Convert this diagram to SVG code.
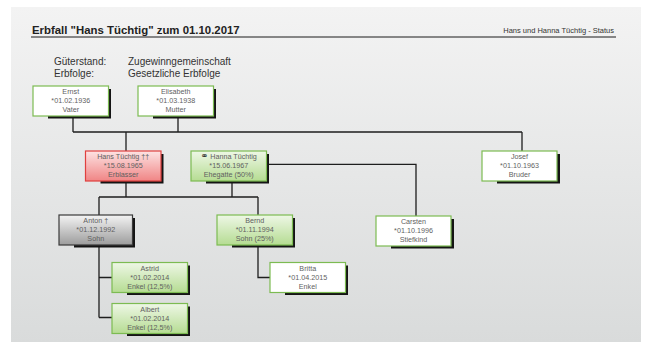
<svg xmlns="http://www.w3.org/2000/svg" width="645" height="342" viewBox="0 0 645 342">
<defs>
<linearGradient id="bg" x1="0" y1="0" x2="0" y2="1">
<stop offset="0" stop-color="#f3f3f3"/>
<stop offset="1" stop-color="#d9dbdb"/>
</linearGradient>
<linearGradient id="gGreen" x1="0" y1="0" x2="0" y2="1">
<stop offset="0" stop-color="#eef7e6"/>
<stop offset="1" stop-color="#b5dc92"/>
</linearGradient>
<linearGradient id="gRed" x1="0" y1="0" x2="0" y2="1">
<stop offset="0" stop-color="#fde3e3"/>
<stop offset="1" stop-color="#f08585"/>
</linearGradient>
<linearGradient id="gGrey" x1="0" y1="0" x2="0" y2="1">
<stop offset="0" stop-color="#f4f4f4"/>
<stop offset="1" stop-color="#9c9c9c"/>
</linearGradient>
</defs>
<style>
.sh{fill:#141414}
.box{stroke-width:1.2}
.white{fill:#ffffff;stroke:#7cbb52}
.green{fill:url(#gGreen);stroke:#7cbb52}
.red{fill:url(#gRed);stroke:#e0403f}
.grey{fill:url(#gGrey);stroke:#3a3a3a}
.t{font-family:"Liberation Sans",Arial,sans-serif;font-size:7.2px;fill:#5f5f5f;text-anchor:middle}
.conn{stroke:#1e1e1e;stroke-width:1.3;fill:none}
.hdr{font-family:"Liberation Sans",Arial,sans-serif;fill:#222222}
.sub{font-family:"Liberation Sans",Arial,sans-serif;fill:#333333}
.sym{font-family:"DejaVu Sans",sans-serif;font-size:9px;fill:#333333;font-weight:bold}
</style>
<rect x="0" y="0" width="645" height="342" fill="#ffffff"/>
<rect x="11" y="7" width="630" height="335" fill="url(#bg)"/>
<text class="hdr" x="32" y="33.5" font-size="11.4" font-weight="bold">Erbfall "Hans Tüchtig" zum 01.10.2017</text>
<text class="sub" x="614" y="32.5" font-size="7.5" text-anchor="end">Hans und Hanna Tüchtig - Status</text>
<line x1="31" y1="37" x2="616" y2="37" stroke="#1a1a1a" stroke-width="1"/>
<text class="sub" x="54" y="65" font-size="10">Güterstand:</text>
<text class="sub" x="54" y="77" font-size="10">Erbfolge:</text>
<text class="sub" x="128" y="65" font-size="10">Zugewinngemeinschaft</text>
<text class="sub" x="128" y="77" font-size="10">Gesetzliche Erbfolge</text>
<g id="connectors">
<path class="conn" d="M73 116V132M178 116V132M73 132H522M126 132V151M522 132V151"/>
<path class="conn" d="M126 181V197M232 181V197M99 197H258M99 197V215M258 197V215"/>
<path class="conn" d="M266.5 164.3H416V216"/>
<path class="conn" d="M99 245V317.5M99 277.5H112M99 317.5H112"/>
<path class="conn" d="M258 245V277.5H270"/>
</g>
<g id="ernst">
<rect class="sh" x="48" y="89" width="63" height="29.5"/>
<rect class="box white" x="33" y="86" width="75.5" height="30"/>
<text class="t" x="70.75" y="94">Ernst</text>
<text class="t" x="70.75" y="103">*01.02.1936</text>
<text class="t" x="70.75" y="112">Vater</text>
</g>
<g id="elisabeth">
<rect class="sh" x="153" y="89" width="63" height="29.5"/>
<rect class="box white" x="138" y="86" width="75.5" height="30"/>
<text class="t" x="175.75" y="94">Elisabeth</text>
<text class="t" x="175.75" y="103">*01.03.1938</text>
<text class="t" x="175.75" y="112">Mutter</text>
</g>
<g id="hans">
<rect class="sh" x="100.5" y="154" width="63" height="29.5"/>
<rect class="box red" x="85.5" y="151" width="75.5" height="30"/>
<text class="t" x="123.25" y="159">Hans Tüchtig ††</text>
<text class="t" x="123.25" y="168">*15.08.1965</text>
<text class="t" x="123.25" y="177">Erblasser</text>
</g>
<g id="hanna">
<rect class="sh" x="206" y="154" width="63" height="29.5"/>
<rect class="box green" x="191" y="151" width="75.5" height="30"/>
<text class="t" x="228.75" y="159"><tspan class="sym">⚭</tspan> Hanna Tüchtig</text>
<text class="t" x="228.75" y="168">*15.06.1967</text>
<text class="t" x="228.75" y="177">Ehegatte (50%)</text>
</g>
<g id="josef">
<rect class="sh" x="497" y="154" width="63" height="29.5"/>
<rect class="box white" x="482" y="151" width="75" height="30"/>
<text class="t" x="519.5" y="159">Josef</text>
<text class="t" x="519.5" y="168">*01.10.1963</text>
<text class="t" x="519.5" y="177">Bruder</text>
</g>
<g id="anton">
<rect class="sh" x="74" y="218" width="61" height="29.5"/>
<rect class="box grey" x="59" y="215" width="73.5" height="30"/>
<text class="t" x="95.75" y="223">Anton †</text>
<text class="t" x="95.75" y="232">*01.12.1992</text>
<text class="t" x="95.75" y="241">Sohn</text>
</g>
<g id="bernd">
<rect class="sh" x="232" y="218" width="63" height="29.5"/>
<rect class="box green" x="217" y="215" width="75.5" height="30"/>
<text class="t" x="254.75" y="223">Bernd</text>
<text class="t" x="254.75" y="232">*01.11.1994</text>
<text class="t" x="254.75" y="241">Sohn (25%)</text>
</g>
<g id="carsten">
<rect class="sh" x="391" y="219" width="63" height="29.5"/>
<rect class="box white" x="376" y="216" width="75" height="30"/>
<text class="t" x="413.5" y="224">Carsten</text>
<text class="t" x="413.5" y="233">*01.10.1996</text>
<text class="t" x="413.5" y="242">Stiefkind</text>
</g>
<g id="astrid">
<rect class="sh" x="127" y="265.5" width="63" height="29.5"/>
<rect class="box green" x="112" y="262.5" width="75.5" height="30"/>
<text class="t" x="149.75" y="270.5">Astrid</text>
<text class="t" x="149.75" y="279.5">*01.02.2014</text>
<text class="t" x="149.75" y="288.5">Enkel (12,5%)</text>
</g>
<g id="albert">
<rect class="sh" x="127" y="306.5" width="63" height="29.5"/>
<rect class="box green" x="112" y="303.5" width="75.5" height="30"/>
<text class="t" x="149.75" y="311.5">Albert</text>
<text class="t" x="149.75" y="320.5">*01.02.2014</text>
<text class="t" x="149.75" y="329.5">Enkel (12,5%)</text>
</g>
<g id="britta">
<rect class="sh" x="285" y="265.5" width="63" height="29.5"/>
<rect class="box white" x="270" y="262.5" width="75.5" height="30"/>
<text class="t" x="307.75" y="270.5">Britta</text>
<text class="t" x="307.75" y="279.5">*01.04.2015</text>
<text class="t" x="307.75" y="288.5">Enkel</text>
</g>
</svg>
